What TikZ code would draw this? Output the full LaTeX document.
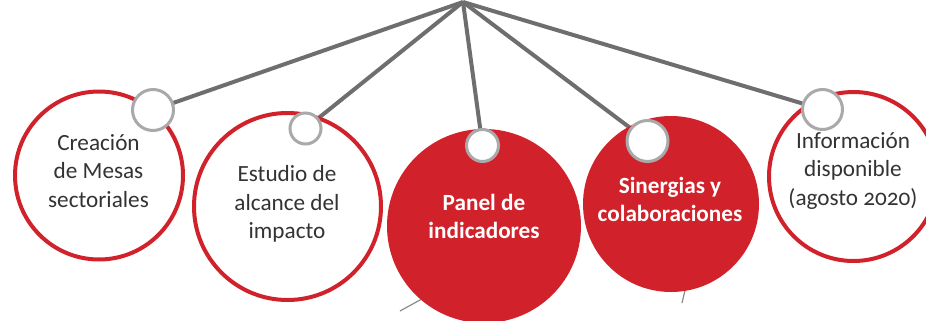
\documentclass[tikz,border=0pt]{standalone}
\usepackage{fontspec}
\setmainfont{Carlito}[Numbers=OldStyle]
\definecolor{cred}{HTML}{D1222B}
\definecolor{cline}{HTML}{6E6E6E}
\definecolor{cring}{HTML}{A9A9A9}
\definecolor{ctext}{HTML}{333333}
\definecolor{cthin}{HTML}{8A8A8A}
\pgfdeclarelayer{bg}
\pgfsetlayers{bg,main}
\tikzset{
  ringbig/.style={circle, draw=cred, line width=2pt, fill=white, inner sep=0pt, minimum size=#1},
  fillbig/.style={circle, fill=cred, inner sep=0pt, minimum size=#1},
  knob/.style={circle, draw=cring, line width=1.5pt, fill=white, inner sep=0pt, minimum size=#1},
  spoke/.style={draw=cline, line width=2pt},
  thin/.style={draw=cthin, line width=0.6pt},
  darktext/.style={align=center, text=ctext, font=\fontsize{11.6}{14.1}\selectfont, inner sep=0pt},
  whitetext/.style={align=center, text=white, font=\bfseries\fontsize{11.6}{14.2}\selectfont, inner sep=0pt},
}
\begin{document}
\begin{tikzpicture}[x=0.5pt,y=-0.5pt]
\useasboundingbox (0,0) rectangle (926,321);
% thin background lines
\coordinate (t1a) at (400,311);
\coordinate (t1b) at (440,289);
\coordinate (t2a) at (682,303);
\coordinate (t2b) at (687,282);
\draw[thin] (t1a) -- (t1b);
\draw[thin] (t2a) -- (t2b);
% big circles
\node[ringbig=84pt] (c1) at (99,175.5) {};
\node[ringbig=93.5pt] (c2) at (287.5,206.5) {};
\node[fillbig=97pt] (c3) at (484,226) {};
\node[fillbig=88pt] (c4) at (671,204) {};
\node[ringbig=84.5pt] (c5) at (853.5,176.5) {};
% texts
\node[darktext] (l1) at (98.5,171) {Creación\\de Mesas\\sectoriales};
\node[darktext] (l2) at (287,204) {Estudio de\\alcance del\\impacto};
\node[whitetext] (l3) at (484,216.5) {Panel de\\indicadores};
\node[whitetext] (l4) at (670,199.5) {Sinergias y\\colaboraciones};
\node[darktext] (l5) at (853,171) {Información\\disponible\\(agosto 2020)};
% knobs
\node[knob=20.5pt] (s1) at (153,110) {};
\node[knob=15.5pt] (s2) at (305.5,128.5) {};
\node[knob=16pt] (s3) at (482.5,145.5) {};
\node[knob=20.5pt] (s4) at (647.5,141) {};
\node[knob=20pt] (s5) at (822.5,109.5) {};
% apex
\coordinate (apex) at (463,2);
\begin{pgfonlayer}{bg}
\draw[spoke] (apex) -- (s1.center);
\draw[spoke] (apex) -- (s2.center);
\draw[spoke] (apex) -- (s3.center);
\draw[spoke] (apex) -- (s4.center);
\draw[spoke] (apex) -- (s5.center);
\end{pgfonlayer}
\end{tikzpicture}
\end{document}
